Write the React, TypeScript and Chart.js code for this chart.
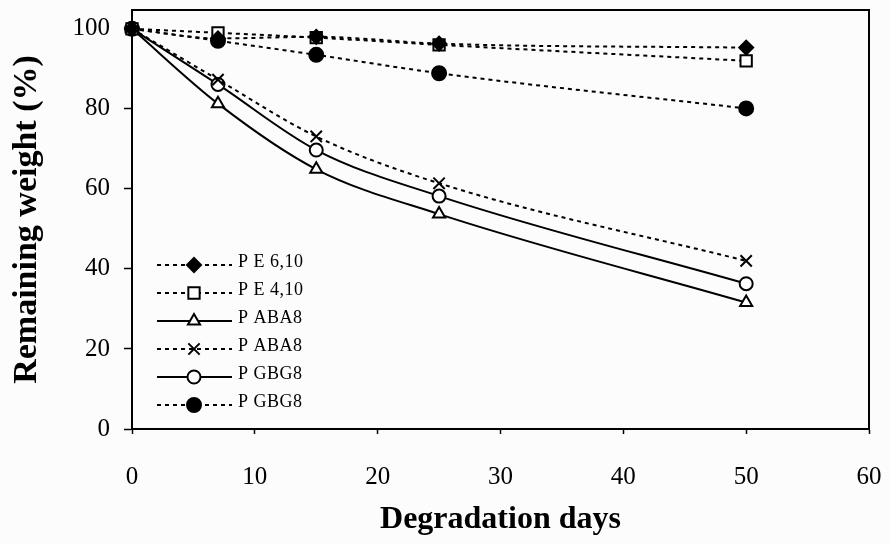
import React, { useEffect, useRef } from "react";
import { Chart, registerables } from "chart.js";
import { drawPoint } from "chart.js/helpers";

Chart.register(...registerables);

const days = [0, 7, 15, 25, 50];
const pe610 = [100, 97.6, 98.0, 96.3, 95.3];
const pe410 = [100, 99.0, 97.8, 96.0, 92.0];
const paba8Solid = [100, 81.3, 64.9, 53.7, 31.6];
const paba8Dotted = [100, 87.3, 73.1, 61.4, 42.0];
const pgbg8Solid = [100, 86.1, 69.7, 58.2, 36.3];
const pgbg8Dotted = [100, 97.0, 93.5, 88.9, 80.1];

const seriesLabels = ["P E 6,10", "P E 4,10", "P ABA8", "P ABA8", "P GBG8", "P GBG8"];
const xTicks = [0, 10, 20, 30, 40, 50, 60];
const yTicks = [0, 20, 40, 60, 80, 100];

const SERIF = "'Liberation Serif', 'Times New Roman', serif";

const pts = (vals: number[]) => days.map((d, i) => ({ x: d, y: vals[i] }));

const noPad = (scale: any) => {
  scale.paddingLeft = 0;
  scale.paddingRight = 0;
  scale.paddingTop = 0;
  scale.paddingBottom = 0;
};

export default function App() {
  const ref = useRef<HTMLCanvasElement | null>(null);

  useEffect(() => {
    document.body.style.margin = "0";
    const canvas = ref.current;
    if (!canvas) return;

    const dotted = [4, 4];
    const mk = (
      label: string,
      vals: number[],
      style: string,
      radius: number,
      fill: string,
      dash: number[]
    ) => ({
      label,
      data: pts(vals),
      borderColor: "#000",
      borderWidth: 2,
      borderDash: dash,
      pointStyle: style,
      pointRadius: radius,
      pointBackgroundColor: fill,
      pointBorderColor: "#000",
      pointBorderWidth: 2,
      cubicInterpolationMode: "monotone",
      clip: false,
      fill: false,
    });

    const datasets: any[] = [
      mk(seriesLabels[0], pe610, "rectRot", 7, "#000", dotted),
      mk(seriesLabels[1], pe410, "rect", 8, "#fff", dotted),
      mk(seriesLabels[2], paba8Solid, "triangle", 7, "#fff", []),
      mk(seriesLabels[3], paba8Dotted, "crossRot", 8, "#fff", dotted),
      mk(seriesLabels[4], pgbg8Solid, "circle", 6.5, "#fff", []),
      mk(seriesLabels[5], pgbg8Dotted, "circle", 7, "#000", dotted),
    ];

    const bgPlugin = {
      id: "bg",
      beforeDraw(chart: any) {
        const { ctx, width, height } = chart;
        ctx.save();
        ctx.fillStyle = "#fcfcfc";
        ctx.fillRect(0, 0, width, height);
        ctx.restore();
      },
    };

    const framePlugin = {
      id: "frame",
      afterDraw(chart: any) {
        const { ctx, chartArea } = chart;
        ctx.save();
        ctx.strokeStyle = "#000";
        ctx.lineWidth = 2;
        ctx.setLineDash([]);
        ctx.strokeRect(
          chartArea.left,
          chartArea.top,
          chartArea.right - chartArea.left,
          chartArea.bottom - chartArea.top
        );
        ctx.restore();
      },
    };

    const legendPlugin = {
      id: "innerLegend",
      afterDraw(chart: any) {
        const { ctx, chartArea } = chart;
        const x0 = chartArea.left + 25;
        const x1 = chartArea.left + 100;
        const xm = chartArea.left + 62;
        const tx = chartArea.left + 106;
        const y0 = chartArea.top + 255;
        const step = 28;
        ctx.save();
        chart.data.datasets.forEach((ds: any, i: number) => {
          const y = y0 + i * step;
          ctx.strokeStyle = "#000";
          ctx.lineWidth = 2;
          ctx.setLineDash(ds.borderDash || []);
          ctx.beginPath();
          ctx.moveTo(x0, y);
          ctx.lineTo(x1, y);
          ctx.stroke();
          ctx.setLineDash([]);
          ctx.fillStyle = ds.pointBackgroundColor;
          ctx.strokeStyle = "#000";
          ctx.lineWidth = 2;
          drawPoint(
            ctx,
            { pointStyle: ds.pointStyle, radius: ds.pointRadius, borderWidth: 2, rotation: 0 },
            xm,
            y
          );
          ctx.fillStyle = "#000";
          ctx.font = `18px ${SERIF}`;
          (ctx as any).letterSpacing = "0.5px";
          ctx.textBaseline = "middle";
          ctx.textAlign = "left";
          ctx.fillText(ds.label, tx, y - 3);
        });
        ctx.restore();
      },
    };

    const chart = new Chart(canvas, {
      type: "line",
      data: { datasets },
      options: {
        animation: false,
        responsive: true,
        maintainAspectRatio: false,
        layout: { padding: { top: 8, right: 21, left: 0, bottom: 0 } },
        plugins: { legend: { display: false }, tooltip: { enabled: false } },
        scales: {
          x: {
            type: "linear",
            min: 0,
            max: 60,
            afterBuildTicks(scale: any) {
              scale.ticks = xTicks.map((v) => ({ value: v }));
            },
            afterFit(scale: any) {
              scale.height = 115;
              noPad(scale);
            },
            grid: {
              drawOnChartArea: false,
              drawTicks: true,
              tickLength: 5,
              tickColor: "#000",
              tickWidth: 1.5,
            },
            border: { color: "#000", width: 2 },
            ticks: {
              color: "#000",
              padding: 28,
              maxRotation: 0,
              font: { family: SERIF, size: 25 },
            },
            title: {
              display: true,
              text: "Degradation days",
              color: "#000",
              font: { family: SERIF, size: 32, weight: "bold" },
              padding: { top: 0, bottom: 5 },
            },
          },
          y: {
            type: "linear",
            min: 0,
            max: 104.7,
            afterBuildTicks(scale: any) {
              scale.ticks = yTicks.map((v) => ({ value: v }));
            },
            afterFit(scale: any) {
              scale.width = 132;
              noPad(scale);
            },
            grid: {
              drawOnChartArea: false,
              drawTicks: true,
              tickLength: 8,
              tickColor: "#000",
              tickWidth: 1.5,
            },
            border: { color: "#000", width: 2 },
            ticks: {
              color: "#000",
              padding: 14,
              font: { family: SERIF, size: 25 },
            },
            title: {
              display: true,
              text: "Remaining weight (%)",
              color: "#000",
              font: { family: SERIF, size: 34, weight: "bold" },
              padding: { top: 7, bottom: 0 },
            },
          },
        },
      },
      plugins: [bgPlugin, framePlugin, legendPlugin],
    } as any);

    return () => chart.destroy();
  }, []);

  return (
    <div style={{ width: 890, height: 544, position: "relative" }}>
      <canvas ref={ref} />
    </div>
  );
}
